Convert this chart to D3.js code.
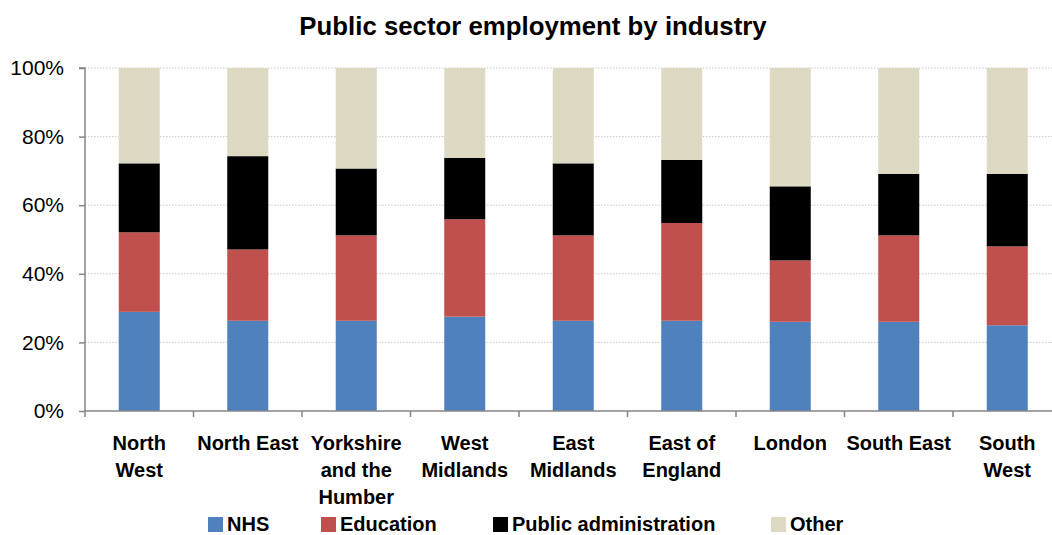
<!DOCTYPE html>
<html>
<head>
<meta charset="utf-8">
<script src="https://cdn.jsdelivr.net/npm/d3@7"></script>
<style>
  html, body { margin: 0; padding: 0; background: #fff; }
  svg { display: block; font-family: "Liberation Sans", Arial, sans-serif; }
</style>
</head>
<body>
<svg id="chart" width="1052" height="535"></svg>
<script>
// Regions (x-axis categories); "\n" marks a line break in the label
const regions = [
  "North\nWest", "North East", "Yorkshire\nand the\nHumber", "West\nMidlands",
  "East\nMidlands", "East of\nEngland", "London", "South East", "South\nWest"
];

// Share of public sector employment (%) by industry
const nhs       = [28.9, 26.3, 26.3, 27.5, 26.3, 26.3, 26.0, 26.0, 25.0];
const education = [23.2, 20.8, 24.9, 28.4, 24.9, 28.5, 17.9, 25.2, 23.0];
const publicAdm = [20.1, 27.2, 19.5, 17.9, 21.0, 18.4, 21.6, 17.9, 21.1];
const other     = [27.8, 25.7, 29.3, 26.2, 27.8, 26.8, 34.5, 30.9, 30.9];

const seriesNames = ["NHS", "Education", "Public administration", "Other"];
const yTicks = [0, 20, 40, 60, 80, 100];

const colors = {
  "NHS": "#4F81BD",
  "Education": "#C0504D",
  "Public administration": "#000000",
  "Other": "#DDD9C3"
};

const rows = regions.map((r, i) => ({
  region: r,
  "NHS": nhs[i],
  "Education": education[i],
  "Public administration": publicAdm[i],
  "Other": other[i]
}));

const svg = d3.select("#chart");
const plotLeft = 85, plotRight = 1061.5;
const plotTop = 68, plotBottom = 411;

const x = d3.scaleBand()
  .domain(regions)
  .range([plotLeft, plotRight])
  .paddingInner(0.622)
  .paddingOuter(0.311);

const y = d3.scaleLinear().domain([0, 100]).range([plotBottom, plotTop]);

// Title
svg.append("text")
  .attr("x", 533).attr("y", 35)
  .attr("text-anchor", "middle")
  .attr("font-size", 25.8).attr("font-weight", "bold")
  .attr("fill", "#000")
  .text("Public sector employment by industry");

// Dotted gridlines
svg.append("g")
  .selectAll("line")
  .data(yTicks.filter(t => t > 0))
  .join("line")
  .attr("x1", plotLeft).attr("x2", 1052)
  .attr("y1", d => y(d)).attr("y2", d => y(d))
  .attr("stroke", "#c8c8c8")
  .attr("stroke-width", 1)
  .attr("stroke-dasharray", "1.5,1.5");

// Stacked bars
const stack = d3.stack().keys(seriesNames);
const layers = stack(rows);

svg.append("g")
  .selectAll("g")
  .data(layers)
  .join("g")
  .attr("fill", d => colors[d.key])
  .selectAll("rect")
  .data(d => d)
  .join("rect")
  .attr("x", d => x(d.data.region))
  .attr("width", x.bandwidth())
  .attr("y", d => y(d[1]))
  .attr("height", d => y(d[0]) - y(d[1]));

// Y axis
const yAxis = d3.axisLeft(y)
  .tickValues(yTicks)
  .tickFormat(d => d + "%")
  .tickSize(6)
  .tickPadding(15);

const gy = svg.append("g")
  .attr("transform", `translate(${plotLeft},0)`)
  .call(yAxis);
gy.select(".domain").attr("stroke", "#868686").attr("stroke-width", 1.5)
  .attr("d", `M-6,${y(100)}H0V${y(0)}`);
gy.selectAll(".tick line").attr("stroke", "#868686").attr("stroke-width", 1.5);
gy.selectAll(".tick text")
  .attr("font-size", 21)
  .attr("font-family", "'Liberation Sans', Arial, sans-serif")
  .attr("fill", "#000");

// X axis: baseline with category separators
const gx = svg.append("g");
gx.append("line")
  .attr("x1", plotLeft).attr("x2", 1052)
  .attr("y1", plotBottom).attr("y2", plotBottom)
  .attr("stroke", "#868686").attr("stroke-width", 1.5);
const sepScale = d3.scaleLinear().domain([0, regions.length]).range([plotLeft, plotRight]);
gx.selectAll("line.sep")
  .data(d3.range(regions.length))
  .join("line")
  .attr("class", "sep")
  .attr("x1", d => sepScale(d)).attr("x2", d => sepScale(d))
  .attr("y1", plotBottom).attr("y2", plotBottom + 6)
  .attr("stroke", "#868686").attr("stroke-width", 1.5);

// Category labels
const labels = svg.append("g")
  .attr("font-size", 20).attr("font-weight", "bold")
  .attr("text-anchor", "middle").attr("fill", "#000");
regions.forEach(r => {
  const cx = x(r) + x.bandwidth() / 2;
  const t = labels.append("text").attr("x", cx).attr("y", 450);
  r.split("\n").forEach((line, j) => {
    t.append("tspan")
      .attr("x", cx)
      .attr("dy", j === 0 ? 0 : 27)
      .text(line);
  });
});

// Legend
const legendX = [208, 321, 493, 771];
const legend = svg.append("g").attr("font-size", 20).attr("font-weight", "bold");
seriesNames.forEach((name, i) => {
  const g = legend.append("g").attr("transform", `translate(${legendX[i]},0)`);
  g.append("rect")
    .attr("x", 0).attr("y", 517)
    .attr("width", 15).attr("height", 15)
    .attr("fill", colors[name]);
  g.append("text")
    .attr("x", 19).attr("y", 531)
    .attr("fill", "#000")
    .text(name);
});
</script>
</body>
</html>
